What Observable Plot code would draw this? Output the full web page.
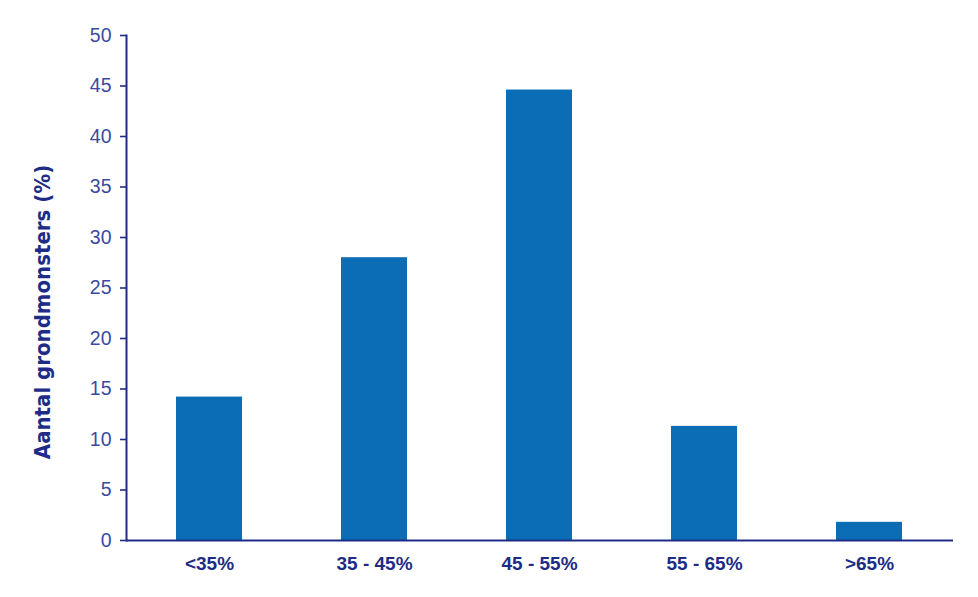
<!DOCTYPE html>
<html>
<head>
<meta charset="utf-8">
<script src="https://cdn.jsdelivr.net/npm/d3@7"></script>
<script src="https://cdn.jsdelivr.net/npm/@observablehq/plot@0.6"></script>
<style>
  html, body { margin: 0; padding: 0; background: #fff; }
  #chart svg { display: block; }
</style>
</head>
<body>
<div id="chart"></div>
<script>
const categories = ["<35%", "35 - 45%", "45 - 55%", "55 - 65%", ">65%"];
const values = [14.2, 28.0, 44.6, 11.3, 1.8];
const yTicks = [0, 5, 10, 15, 20, 25, 30, 35, 40, 45, 50];
const yLabel = "Aantal grondmonsters (%)";

const data = categories.map((c, i) => ({category: c, value: values[i]}));
const navy = "#1e2c85";
const tickNavy = "#3a4a9e";
const barColor = "#0b6db5";

const chart = Plot.plot({
  width: 978,
  height: 597,
  marginLeft: 126,
  marginRight: 25,
  marginTop: 35,
  marginBottom: 57,
  style: {fontFamily: "'Liberation Sans', Arial, sans-serif", background: "#fff"},
  x: {domain: categories, paddingInner: 0.6, paddingOuter: 0.3, label: null},
  y: {domain: [0, 50], label: null},
  marks: [
    Plot.barY(data, {x: "category", y: "value", fill: barColor}),
    Plot.axisY({ticks: yTicks, tickSize: 6, tickPadding: 9, stroke: navy, strokeWidth: 1.6,
      fill: tickNavy, fontSize: 19.5, label: null}),
    Plot.axisX({tickSize: 0, tickPadding: 16, fill: navy, fontSize: 19, fontWeight: "bold", label: null}),
    Plot.ruleY([0], {stroke: navy, strokeWidth: 2}),
    Plot.frame({anchor: "left", stroke: navy, strokeWidth: 2}),
    Plot.text([yLabel], {frameAnchor: "left", rotate: -90, dx: -84, dy: 24, textAnchor: "middle",
      fill: navy, fontSize: 22, fontWeight: "bold",
      fontFamily: "'Liberation Sans Narrow', 'DejaVu Sans Condensed', sans-serif"})
  ]
});
document.getElementById("chart").appendChild(chart);
</script>
</body>
</html>
